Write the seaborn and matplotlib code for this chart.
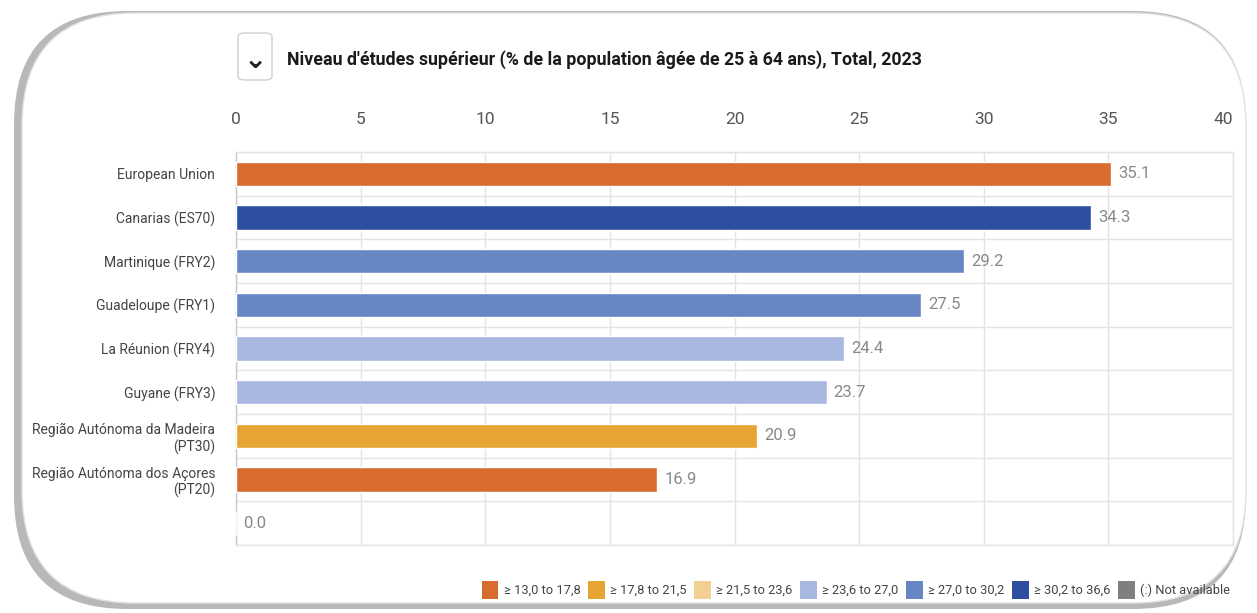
import matplotlib
matplotlib.use("Agg")
import matplotlib.pyplot as plt
import seaborn as sns
import numpy as np
import pandas as pd
from matplotlib.patches import FancyBboxPatch, Patch
from matplotlib.ticker import FixedLocator

# ---------------- data ----------------
categories = [
    "European Union",
    "Canarias (ES70)",
    "Martinique (FRY2)",
    "Guadeloupe (FRY1)",
    "La Réunion (FRY4)",
    "Guyane (FRY3)",
    "Região Autónoma da Madeira\n(PT30)",
    "Região Autónoma dos Açores\n(PT20)",
    " ",
]
values = [35.1, 34.3, 29.2, 27.5, 24.4, 23.7, 20.9, 16.9, 0.0]
class_edges = [13.0, 17.8, 21.5, 23.6, 27.0, 30.2, 36.6]
legend_labels = ["≥ 13,0 to 17,8", "≥ 17,8 to 21,5", "≥ 21,5 to 23,6",
                 "≥ 23,6 to 27,0", "≥ 27,0 to 30,2", "≥ 30,2 to 36,6",
                 "(:) Not available"]
class_colors = ["#D86B2E", "#E6A532", "#F2CF93", "#A9B8E0", "#6687C4",
                "#2C4F9F", "#7F7F7F"]
highlight = "European Union"
highlight_color = "#D86B2E"
title = "Niveau d'études supérieur (% de la population âgée de 25 à 64 ans), Total, 2023"


def color_for(cat, v):
    if cat == highlight:
        return highlight_color
    idx = np.searchsorted(class_edges, v, side="right") - 1
    idx = int(np.clip(idx, 0, len(class_colors) - 2))
    return class_colors[idx]


bar_colors = {c: color_for(c, v) for c, v in zip(categories, values)}
df = pd.DataFrame({"cat": categories, "val": values})

# ---------------- figure ----------------
sns.set_theme(style="white")
plt.rcParams["font.family"] = ["Roboto", "DejaVu Sans"]

W, H = 1257, 613
fig = plt.figure(figsize=(W / 100, H / 100), dpi=100)
fig.patch.set_facecolor("white")

# card background with shadow
shadow = FancyBboxPatch((14 / W, 4 / H), 1232 / W, 598 / H,
                        boxstyle="round,pad=0,rounding_size=0.09",
                        transform=fig.transFigure, facecolor="#8a8a8a",
                        edgecolor="none", alpha=0.6, zorder=-3,
                        mutation_aspect=W / H)
fig.patches.append(shadow)
card = FancyBboxPatch((22 / W, 10 / H), 1224 / W, 590 / H,
                      boxstyle="round,pad=0,rounding_size=0.09",
                      transform=fig.transFigure, facecolor="white",
                      edgecolor="#e2e2e2", linewidth=1.0, zorder=-2,
                      mutation_aspect=W / H)
fig.patches.append(card)

ax = fig.add_axes([236 / W, (H - 545) / H, (1233 - 236) / W, (545 - 152) / H])
ax.set_facecolor("none")
ax.set_zorder(1)

sns.barplot(data=df, y="cat", x="val", hue="cat", palette=bar_colors,
            legend=False, width=0.55, ax=ax, saturation=1, zorder=3)

ax.set_xlim(0, 40)
ax.set_ylim(len(categories) - 0.5, -0.5)
ax.set_xticks(np.arange(0, 41, 5))
ax.xaxis.tick_top()
ax.tick_params(axis="x", length=0, pad=18, labelsize=12.5, labelcolor="#555555")
ax.tick_params(axis="y", length=0, pad=15, labelsize=10, labelcolor="#444444")
ax.set_xlabel("")
ax.set_ylabel("")
for lab in ax.get_yticklabels():
    lab.set_linespacing(1.2)

ax.yaxis.set_minor_locator(FixedLocator(np.arange(-0.5, len(categories), 1.0)))
ax.grid(axis="x", which="major", color="#e4e4e4", linewidth=1.0, zorder=0)
ax.grid(axis="y", which="minor", color="#e4e4e4", linewidth=1.0, zorder=0)
ax.grid(axis="y", which="major", visible=False)
for side, sp in ax.spines.items():
    sp.set_visible(True)
    sp.set_color("#e4e4e4")
    sp.set_linewidth(1.0)
ax.spines["left"].set_color("#c8c8c8")

fig.canvas.draw()
for tick in ax.xaxis.get_major_ticks():
    if abs(tick.get_loc() - 40) < 1e-9:
        tick.label2.set_horizontalalignment("right")
        tick.label1.set_horizontalalignment("right")

# value labels
for i, v in enumerate(values):
    ax.annotate(f"{v:.1f}", xy=(v, i), xytext=(5, 0), textcoords="offset points",
                va="center", ha="left", fontsize=12, color="#888888", zorder=4)

# title and chevron button
btn = FancyBboxPatch((238 / W, (H - 80) / H), 34 / W, 47 / H,
                     boxstyle="round,pad=0,rounding_size=0.006",
                     transform=fig.transFigure, facecolor="white",
                     edgecolor="#cfcfcf", linewidth=1.0, zorder=2)
fig.patches.append(btn)
fig.text(255 / W, (H - 60) / H, "⌄", ha="center", va="center", fontsize=20,
         fontweight="bold", color="#222222", family=["DejaVu Sans"])
fig.text(287 / W, (H - 60) / H, title, ha="left", va="center", fontsize=12.8,
         fontweight="bold", color="#1a1a1a")

# legend
handles = [Patch(facecolor=c, edgecolor="none") for c in class_colors]
leg = fig.legend(handles, legend_labels, loc="center left",
                 bbox_to_anchor=(470 / W, (H - 590) / H), ncol=7, frameon=False,
                 fontsize=9.3, handlelength=1.3, handleheight=1.7,
                 handletextpad=0.4, columnspacing=0.6, labelcolor="#444444")

fig.savefig("out.png", dpi=100, facecolor="white")
